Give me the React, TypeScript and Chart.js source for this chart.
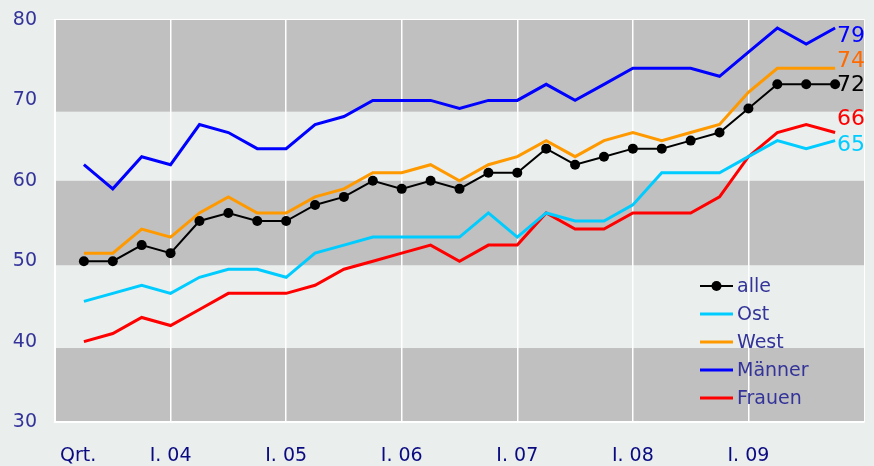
import React, { useEffect, useRef } from "react";
import { Chart, registerables } from "chart.js";

Chart.register(...registerables);

// Quarters from II.03 to IV.09 (axis starts at I.03 = 0)
const quarters = [
  "II.03", "III.03", "IV.03",
  "I.04", "II.04", "III.04", "IV.04",
  "I.05", "II.05", "III.05", "IV.05",
  "I.06", "II.06", "III.06", "IV.06",
  "I.07", "II.07", "III.07", "IV.07",
  "I.08", "II.08", "III.08", "IV.08",
  "I.09", "II.09", "III.09", "IV.09",
];

const alle = [50, 50, 52, 51, 55, 56, 55, 55, 57, 58, 60, 59, 60, 59, 61, 61, 64, 62, 63, 64, 64, 65, 66, 69, 72, 72, 72];
const ost = [45, 46, 47, 46, 48, 49, 49, 48, 51, 52, 53, 53, 53, 53, 56, 53, 56, 55, 55, 57, 61, 61, 61, 63, 65, 64, 65];
const west = [51, 51, 54, 53, 56, 58, 56, 56, 58, 59, 61, 61, 62, 60, 62, 63, 65, 63, 65, 66, 65, 66, 67, 71, 74, 74, 74];
const maenner = [62, 59, 63, 62, 67, 66, 64, 64, 67, 68, 70, 70, 70, 69, 70, 70, 72, 70, 72, 74, 74, 74, 73, 76, 79, 77, 79];
const frauen = [40, 41, 43, 42, 44, 46, 46, 46, 47, 49, 50, 51, 52, 50, 52, 52, 56, 54, 54, 56, 56, 56, 58, 63, 66, 67, 66];

const seriesNames = ["alle", "Ost", "West", "Männer", "Frauen"];
const seriesData = [alle, ost, west, maenner, frauen];
const seriesColors = ["#000000", "#00ccff", "#ff9900", "#0000ff", "#ff0000"];
const endLabelColors = ["#000000", "#00ccff", "#ff6a00", "#0000ff", "#ff0000"];
const endLabelOffsets = [1, 5, -7, 8, -13];

const xTickValues = [0.8, 4, 8, 12, 16, 20, 24];
const xTickLabels = ["Qrt.", "I. 04", "I. 05", "I. 06", "I. 07", "I. 08", "I. 09"];

// Gray band ranges [from, to]
const grayBands = [
  [68.6, 80],
  [49.5, 60],
  [30, 39.2],
];

const FONT = "'DejaVu Sans', Verdana, sans-serif";

const bandsPlugin = {
  id: "bands",
  beforeDraw(chart: any) {
    const { ctx, chartArea, scales } = chart;
    ctx.save();
    ctx.fillStyle = "#c0c0c0";
    for (const [a, b] of grayBands) {
      const y1 = scales.y.getPixelForValue(b);
      const y2 = scales.y.getPixelForValue(a);
      ctx.fillRect(chartArea.left, y1, chartArea.right - chartArea.left, y2 - y1);
    }
    ctx.strokeStyle = "#ffffff";
    ctx.lineWidth = 1;
    ctx.beginPath();
    ctx.moveTo(chartArea.left, chartArea.top - 0.5);
    ctx.lineTo(chartArea.right + 0.5, chartArea.top - 0.5);
    ctx.lineTo(chartArea.right + 0.5, chartArea.bottom);
    ctx.stroke();
    ctx.restore();
  },
};

const labelsPlugin = {
  id: "endLabels",
  afterDatasetsDraw(chart: any) {
    const { ctx, chartArea } = chart;
    ctx.save();
    // end value labels
    ctx.font = `22px ${FONT}`;
    ctx.textAlign = "left";
    ctx.textBaseline = "middle";
    chart.data.datasets.forEach((ds: any, i: number) => {
      const meta = chart.getDatasetMeta(i);
      const last = meta.data[meta.data.length - 1];
      const v = ds.data[ds.data.length - 1].y;
      ctx.fillStyle = endLabelColors[i];
      ctx.fillText(String(v), last.x + 2, last.y + endLabelOffsets[i]);
    });
    // legend
    const lx = chartArea.right - 164;
    const ly = 286;
    ctx.font = `19px ${FONT}`;
    chart.data.datasets.forEach((ds: any, i: number) => {
      const y = ly + i * 28;
      ctx.strokeStyle = ds.borderColor;
      ctx.lineWidth = i === 0 ? 2 : 3;
      ctx.beginPath();
      ctx.moveTo(lx, y);
      ctx.lineTo(lx + 33, y);
      ctx.stroke();
      if (i === 0) {
        ctx.fillStyle = "#000000";
        ctx.beginPath();
        ctx.arc(lx + 16.5, y, 5, 0, Math.PI * 2);
        ctx.fill();
      }
      ctx.fillStyle = "#333399";
      ctx.fillText(ds.label, lx + 37, y + 1);
    });
    ctx.restore();
  },
};

export default function App() {
  const ref = useRef<HTMLCanvasElement | null>(null);

  useEffect(() => {
    if (!ref.current) return;
    const datasets = seriesNames.map((name, i) => ({
      label: name,
      data: seriesData[i].map((v, k) => ({ x: k + 1, y: v })),
      borderColor: seriesColors[i],
      backgroundColor: seriesColors[i],
      borderWidth: i === 0 ? 2 : 3,
      pointRadius: i === 0 ? 5 : 0,
      pointHoverRadius: i === 0 ? 5 : 0,
      pointBackgroundColor: "#000000",
      pointBorderWidth: 0,
      tension: 0,
      fill: false,
    }));

    const chart = new Chart(ref.current, {
      type: "line",
      data: { labels: quarters, datasets },
      options: {
        animation: false,
        responsive: false,
        maintainAspectRatio: false,
        layout: { padding: { top: 20, right: 10, left: 0, bottom: 0 } },
        plugins: {
          legend: { display: false },
          tooltip: { enabled: false },
        },
        scales: {
          x: {
            type: "linear",
            min: 0,
            max: 28,
            afterBuildTicks(scale: any) {
              scale.ticks = xTickValues.map((v) => ({ value: v }));
            },
            afterFit(scale: any) {
              scale.height = 44;
              scale.paddingLeft = 0;
              scale.paddingRight = 0;
            },
            ticks: {
              autoSkip: false,
              maxRotation: 0,
              padding: 23,
              color: "#0a0a80",
              font: { family: FONT, size: 19 },
              callback: (value: any) => {
                const idx = xTickValues.indexOf(Number(value));
                return idx >= 0 ? xTickLabels[idx] : "";
              },
            },
            grid: {
              drawTicks: false,
              color: (ctx: any) => (ctx.tick && ctx.tick.value === xTickValues[0] ? "rgba(0,0,0,0)" : "#ffffff"),
              lineWidth: 1.5,
            },
            border: { display: true, color: "#ffffff", width: 2 },
          },
          y: {
            min: 30,
            max: 80,
            afterFit(scale: any) {
              scale.width = 55;
              scale.paddingTop = 0;
              scale.paddingBottom = 0;
            },
            ticks: {
              stepSize: 10,
              padding: 18,
              color: "#333399",
              font: { family: FONT, size: 19 },
            },
            grid: { display: false, drawTicks: false },
            border: { display: true, color: "#ffffff", width: 2 },
          },
        },
      },
      plugins: [bandsPlugin, labelsPlugin],
    });
    return () => chart.destroy();
  }, []);

  return (
    <div
      style={{
        position: "fixed",
        left: 0,
        top: 0,
        width: 874,
        height: 466,
        background: "#eaeeed",
      }}
    >
      <canvas ref={ref} width={874} height={466} style={{ display: "block" }} />
    </div>
  );
}
